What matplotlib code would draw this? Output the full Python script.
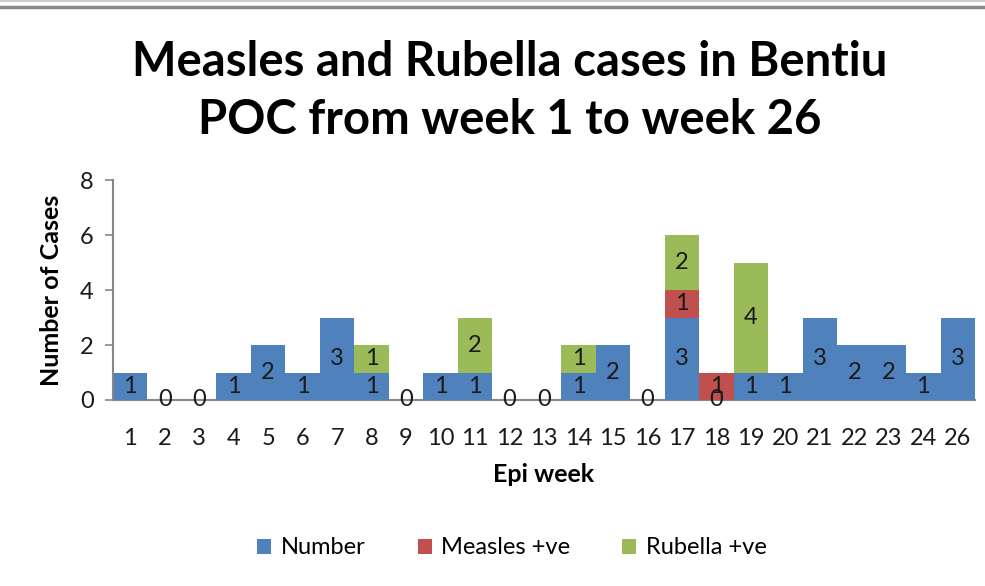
import matplotlib
matplotlib.use("Agg")
import matplotlib.pyplot as plt
from matplotlib.lines import Line2D
from matplotlib.patches import Patch
import numpy as np

weeks = ["1", "2", "3", "4", "5", "6", "7", "8", "9", "10", "11", "12", "13",
         "14", "15", "16", "17", "18", "19", "20", "21", "22", "23", "24", "26"]
number = [1, 0, 0, 1, 2, 1, 3, 1, 0, 1, 1, 0, 0, 1, 2, 0, 3, 0, 1, 1, 3, 2, 2, 1, 3]
measles = [0, 0, 0, 0, 0, 0, 0, 0, 0, 0, 0, 0, 0, 0, 0, 0, 1, 1, 0, 0, 0, 0, 0, 0, 0]
rubella = [0, 0, 0, 0, 0, 0, 0, 1, 0, 0, 2, 0, 0, 1, 0, 0, 2, 0, 4, 0, 0, 0, 0, 0, 0]
series_names = ["Number", "Measles +ve", "Rubella +ve"]
colors = ["#4F81BD", "#C0504D", "#9BBB59"]

plt.rcParams['font.family'] = ['Lato', 'DejaVu Sans']

fig = plt.figure(figsize=(9.85, 5.86), dpi=100)
ax = fig.add_axes([113/985, 1-400/586, (975-113)/985, 220/586])

x = np.arange(len(weeks))
bottom = np.zeros(len(weeks))
for vals, col, name, show_zero in zip([number, measles, rubella], colors, series_names, [True, False, False]):
    vals = np.array(vals, dtype=float)
    ax.bar(x, vals, width=1.0, bottom=bottom, color=col, edgecolor='none', label=name)
    for xi, v, b in zip(x, vals, bottom):
        if v > 0 or show_zero:
            ax.text(xi, b + v/2, f"{int(v)}", ha='center', va='center', fontsize=17, color='#1a1a1a')
    bottom = bottom + vals

ax.set_xlim(-0.5, len(weeks)-0.5)
ax.set_ylim(0, 8)
ax.set_yticks([0, 2, 4, 6, 8])
ax.set_xticks(x)
ax.set_xticklabels(weeks)
ax.tick_params(axis='x', length=0, labelsize=17, pad=20, colors='#1a1a1a')
ax.tick_params(axis='y', length=6, width=1.2, color='#888888', labelsize=17, pad=8, labelcolor='#1a1a1a')
for s in ['top', 'right']:
    ax.spines[s].set_visible(False)
for s in ['left', 'bottom']:
    ax.spines[s].set_color('#888888')
    ax.spines[s].set_linewidth(1.5)
ax.spines['bottom'].set_zorder(0.5)

ax.set_xlabel("Epi week", fontsize=18, fontweight='bold', labelpad=10)
ax.set_ylabel("Number of Cases", fontsize=18, fontweight='bold', labelpad=12)

fig.text(510/985, 1-62/586, "Measles and Rubella cases in Bentiu", ha='center', va='center',
         fontsize=34, fontweight='bold')
fig.text(510/985, 1-120/586, "POC from week 1 to week 26", ha='center', va='center',
         fontsize=34, fontweight='bold')

handles = [Patch(facecolor=c, edgecolor='none') for c in colors]
fig.legend(handles, series_names, loc='center', bbox_to_anchor=(512/985, 1-548/586), ncol=3,
           frameon=False, fontsize=17, handlelength=0.6, handleheight=0.6, columnspacing=2.2,
           handletextpad=0.4)

fig.add_artist(Line2D([0, 1], [1-1/586, 1-1/586], color='#cccccc', lw=1.5))
fig.add_artist(Line2D([0, 1], [1-7/586, 1-7/586], color='#8a8a8a', lw=2.5))

fig.savefig("out.png", dpi=100)
